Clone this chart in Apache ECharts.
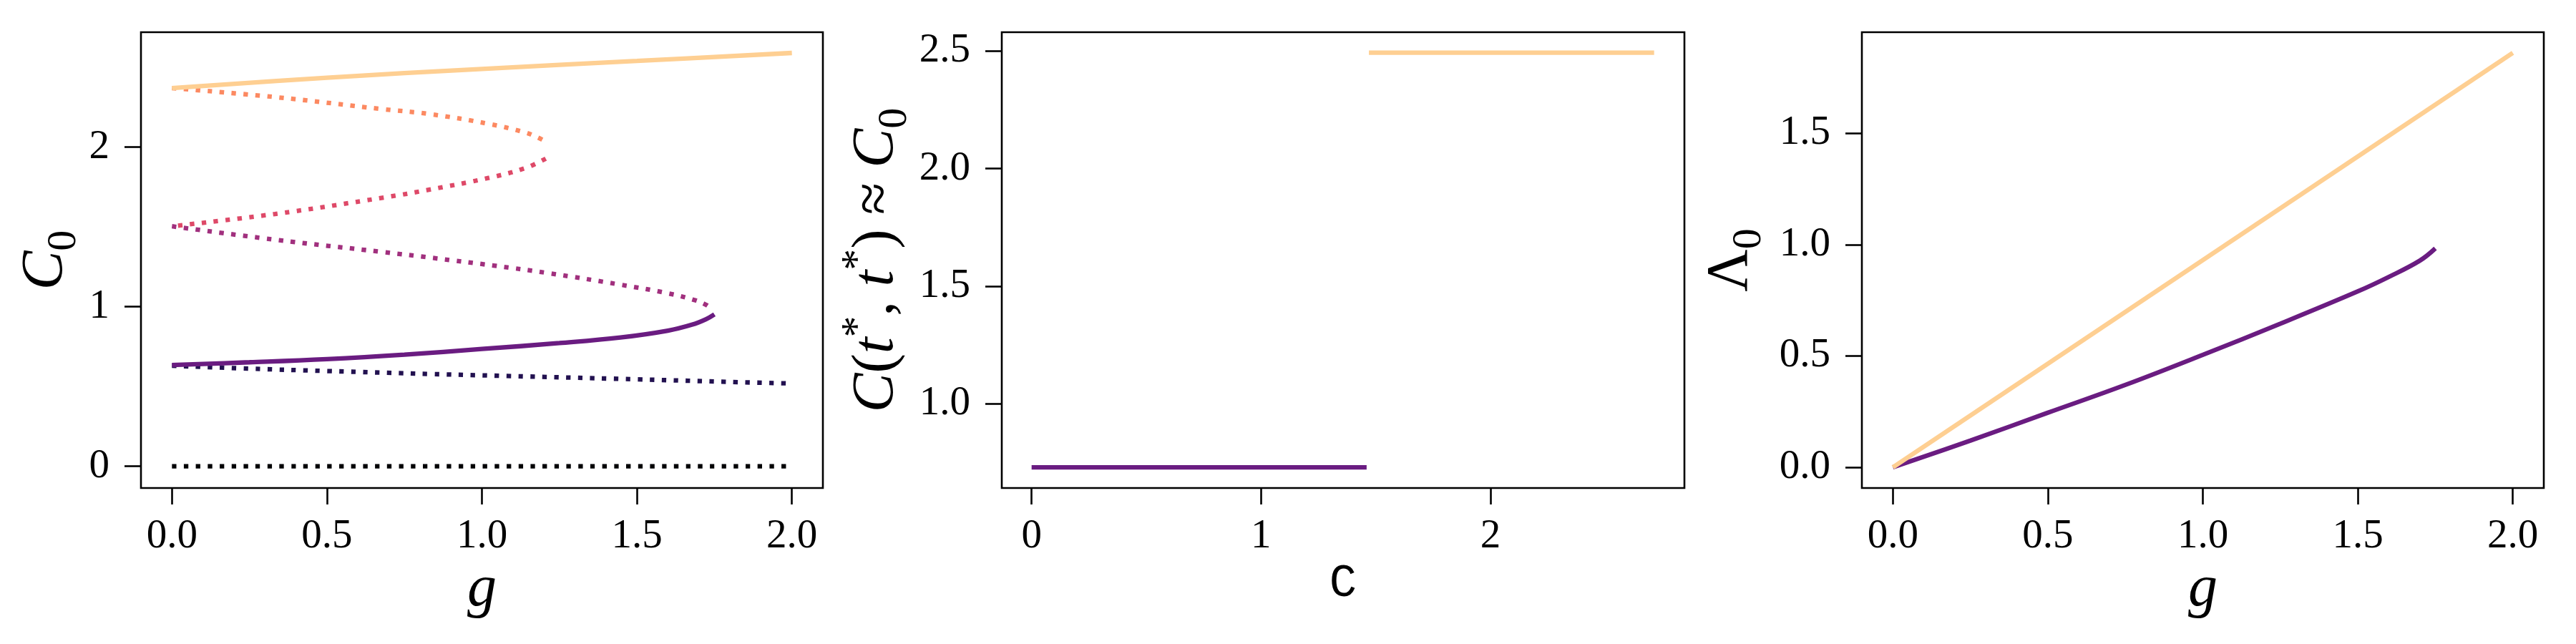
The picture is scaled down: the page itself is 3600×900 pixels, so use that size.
<!DOCTYPE html>
<html>
<head>
<meta charset="utf-8">
<title>fixed points</title>
<script src="https://cdn.jsdelivr.net/npm/echarts@6/dist/echarts.min.js"></script>
<style>
  html, body { margin: 0; padding: 0; background: #fff; }
  #chart { width: 3600px; height: 900px; }
</style>
</head>
<body>
<div id="chart"></div>
<script>
  // ---- panel 1 : C0 vs g (branches of the fixed point equation)
  const topG = [0, 0.5, 1.0, 1.5, 2.0];
  const topC = [2.37, 2.435, 2.49, 2.54, 2.59];
  const salmonG = [0, 0.33, 0.684, 0.832, 1.024, 1.139, 1.178, 1.212];
  const salmonC = [2.37, 2.314, 2.237, 2.207, 2.145, 2.092, 2.062, 2.028];
  const pinkG = [1.206, 1.139, 1.024, 0.832, 0.684, 0.332, 0];
  const pinkC = [1.928, 1.868, 1.808, 1.734, 1.684, 1.581, 1.504];
  const magentaG = [0, 0.332, 0.684, 0.84, 1.037, 1.216, 1.447, 1.6, 1.685, 1.723, 1.746];
  const magentaC = [1.504, 1.42, 1.342, 1.306, 1.258, 1.21, 1.138, 1.084, 1.042, 1.012, 0.979];
  const purpleG = [0, 0.25, 0.5, 0.75, 1.0, 1.25, 1.447, 1.6, 1.677, 1.723, 1.75];
  const purpleC = [0.635, 0.652, 0.672, 0.7, 0.735, 0.772, 0.807, 0.85, 0.887, 0.922, 0.952];
  const navyG = [0, 0.25, 0.5, 0.84, 1.0, 1.5, 1.83, 2.0];
  const navyC = [0.63, 0.612, 0.597, 0.578, 0.57, 0.545, 0.527, 0.519];
  const zeroG = [0, 2.0];
  const zeroC = [0, 0];

  // ---- panel 2 : C(t*, t*) plateaus vs C
  const lowPlateauX = [0, 1.46];
  const lowPlateauY = [0.729, 0.729];
  const highPlateauX = [1.47, 2.713];
  const highPlateauY = [2.493, 2.493];

  // ---- panel 3 : Lambda0 vs g
  const lamLowG = [0, 0.25, 0.5, 0.75, 1.0, 1.25, 1.5, 1.6, 1.7, 1.75];
  const lamLow = [0, 0.12, 0.245, 0.37, 0.505, 0.645, 0.79, 0.855, 0.928, 0.983];
  const lamHighG = [0, 2.0];
  const lamHigh = [0, 1.861];

  // ticks
  const ticksG = [0, 0.5, 1.0, 1.5, 2.0];
  const ticksC0 = [0, 1, 2];
  const ticksCx = [0, 1, 2];
  const ticksCtt = [1.0, 1.5, 2.0, 2.5];
  const ticksLam = [0, 0.5, 1.0, 1.5];

  const magma = {
    black: "#000004",
    navy: "#221150",
    purple: "#6a1c81",
    magenta: "#a1307e",
    pink: "#de4968",
    salmon: "#fc8961",
    orange: "#fecf92",
  };

  const serif = "'Liberation Serif', 'DejaVu Serif', serif";
  const LW = 6.3;

  const zip = (xs, ys) => xs.map((x, i) => [x, ys[i]]);

  const lineFn = (idx, xs, ys, color, dotted) => {
    return {
      type: "line",
      xAxisIndex: idx,
      yAxisIndex: idx,
      data: zip(xs, ys),
      smooth: 0.4,
      showSymbol: false,
      symbol: "none",
      silent: true,
      lineStyle: {
        color: color,
        width: LW,
        type: dotted ? [LW, 10.4] : "solid",
        cap: "butt",
      },
    };
  };

  const grids = [
    { left: 197, top: 45, width: 953, height: 637 },
    { left: 1400, top: 45, width: 954, height: 637 },
    { left: 2602, top: 45, width: 953, height: 637 },
  ].map(g => Object.assign(g, { show: true, borderColor: "#000", borderWidth: 2.6, backgroundColor: "transparent" }));

  const richName = {
    c: { fontFamily: serif, fontStyle: "italic", fontSize: 82, lineHeight: 110, verticalAlign: "middle", color: "#000" },
    u: { fontFamily: serif, fontSize: 82, lineHeight: 110, verticalAlign: "middle", color: "#000" },
    s: { fontFamily: serif, fontSize: 58, lineHeight: 58, verticalAlign: "bottom", color: "#000" },
    sp: { fontFamily: serif, fontSize: 60, lineHeight: 80, verticalAlign: "top", color: "#000" },
  };

  const axisCommon = (idx, min, max, ticks, fmt, name, nameGap, nameStyle) => {
    return {
      type: "value",
      gridIndex: idx,
      min: min,
      max: max,
      name: name,
      nameLocation: "middle",
      nameGap: nameGap,
      nameTextStyle: nameStyle,
      axisLine: { show: false, onZero: false },
      splitLine: { show: false },
      axisTick: { show: true, inside: false, length: 23, customValues: ticks, lineStyle: { color: "#000", width: 2.6 } },
      axisLabel: {
        customValues: ticks,
        formatter: fmt,
        fontFamily: serif,
        fontSize: 57,
        color: "#000",
        margin: 44,
      },
    };
  };

  const fmt0 = v => String(Math.round(v));
  const fmt1 = v => v.toFixed(1);

  const gName = { fontFamily: serif, fontStyle: "italic", fontSize: 82, color: "#000" };
  const cName = { fontFamily: "'Liberation Mono', 'DejaVu Sans Mono', monospace", fontSize: 64, color: "#000" };

  const xAxes = [
    axisCommon(0, -0.1, 2.1, ticksG, fmt1, "g", 88, gName),
    axisCommon(1, -0.13, 2.845, ticksCx, fmt0, "C", 100, cName),
    axisCommon(2, -0.1, 2.1, ticksG, fmt1, "g", 88, gName),
  ];
  xAxes.forEach(a => { a.axisLabel.margin = 40; });

  const yAxes = [
    axisCommon(0, -0.136, 2.72, ticksC0, fmt0, "{c|C}{s|0}", 78, { rich: richName }),
    axisCommon(1, 0.641, 2.58, ticksCtt, fmt1,
      "{c|C}{u|(}{c|t}{sp|*}{u|, }{c|t}{sp|*}{u|) ≈ }{c|C}{s|0}", 120, { rich: richName }),
    axisCommon(2, -0.093, 1.954, ticksLam, fmt1, "{u|Λ}{s|0}", 128, { rich: richName }),
  ];

  const series = [
    lineFn(0, zeroG, zeroC, magma.black, true),
    lineFn(0, navyG, navyC, magma.navy, true),
    lineFn(0, purpleG, purpleC, magma.purple, false),
    lineFn(0, magentaG, magentaC, magma.magenta, true),
    lineFn(0, pinkG, pinkC, magma.pink, true),
    lineFn(0, salmonG, salmonC, magma.salmon, true),
    lineFn(0, topG, topC, magma.orange, false),
    lineFn(1, lowPlateauX, lowPlateauY, magma.purple, false),
    lineFn(1, highPlateauX, highPlateauY, magma.orange, false),
    lineFn(2, lamLowG, lamLow, magma.purple, false),
    lineFn(2, lamHighG, lamHigh, magma.orange, false),
  ];

  const chart = echarts.init(document.getElementById("chart"), null, { renderer: "canvas" });
  chart.setOption({
    animation: false,
    backgroundColor: "#fff",
    grid: grids,
    xAxis: xAxes,
    yAxis: yAxes,
    series: series,
  });
</script>
</body>
</html>
